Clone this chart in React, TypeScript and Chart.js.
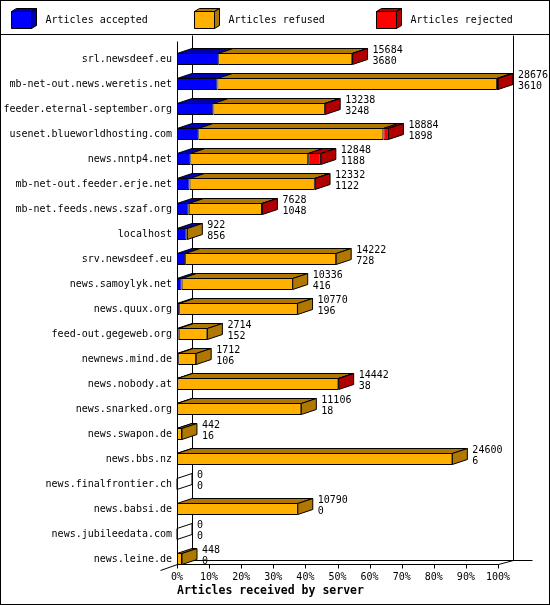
import React, { useEffect, useRef } from "react";
import { Chart, registerables } from "chart.js";

Chart.register(...registerables);

const categories = [
  "srl.newsdeef.eu",
  "mb-net-out.news.weretis.net",
  "feeder.eternal-september.org",
  "usenet.blueworldhosting.com",
  "news.nntp4.net",
  "mb-net-out.feeder.erje.net",
  "mb-net.feeds.news.szaf.org",
  "localhost",
  "srv.newsdeef.eu",
  "news.samoylyk.net",
  "news.quux.org",
  "feed-out.gegeweb.org",
  "newnews.mind.de",
  "news.nobody.at",
  "news.snarked.org",
  "news.swapon.de",
  "news.bbs.nz",
  "news.finalfrontier.ch",
  "news.babsi.de",
  "news.jubileedata.com",
  "news.leine.de",
];

const totalArticles = [15684, 28676, 13238, 18884, 12848, 12332, 7628, 922, 14222, 10336, 10770, 2714, 1712, 14442, 11106, 442, 24600, 0, 10790, 0, 448];
const acceptedArticles = [3680, 3610, 3248, 1898, 1188, 1122, 1048, 856, 728, 416, 196, 152, 106, 38, 18, 16, 6, 0, 0, 0, 0];
const refusedArticles = [11974, 24966, 9960, 16536, 10530, 11180, 6550, 66, 13494, 9920, 10574, 2562, 1606, 14374, 11088, 426, 24594, 0, 10790, 0, 448];
const rejectedArticles = [30, 100, 30, 450, 1130, 30, 30, 0, 0, 0, 0, 0, 0, 30, 0, 0, 0, 0, 0, 0, 0];

const seriesLabels = ["Articles accepted", "Articles refused", "Articles rejected"];
const percentLabels = ["0%", "10%", "20%", "30%", "40%", "50%", "60%", "70%", "80%", "90%", "100%"];
const xAxisTitle = "Articles received by server";

const FRONT = ["#0000ff", "#ffb000", "#ff0000"];
const SHADE = ["#0000b0", "#b07800", "#b00000"];
const FONT = "'DejaVu Sans Mono', 'Liberation Mono', monospace";
const DX = 15;
const BAR_DY = 5;
const WALL_DY = 4;
const LEGEND_H = 35;
const LEGEND_X0 = 11;
const LEGEND_STEP = 182.5;

type Pt = [number, number];

function poly(ctx: CanvasRenderingContext2D, pts: Pt[], fill?: string) {
  ctx.beginPath();
  ctx.moveTo(pts[0][0], pts[0][1]);
  for (let i = 1; i < pts.length; i++) ctx.lineTo(pts[i][0], pts[i][1]);
  ctx.closePath();
  if (fill) {
    ctx.fillStyle = fill;
    ctx.fill();
  }
  ctx.stroke();
}

function line(ctx: CanvasRenderingContext2D, pts: Pt[]) {
  ctx.beginPath();
  ctx.moveTo(pts[0][0], pts[0][1]);
  for (let i = 1; i < pts.length; i++) ctx.lineTo(pts[i][0], pts[i][1]);
  ctx.stroke();
}

const frame3d = {
  id: "frame3d",
  beforeDraw(chart: any) {
    const { ctx, width, height } = chart;
    ctx.save();
    ctx.fillStyle = "#fff";
    ctx.fillRect(0, 0, width, height);
    ctx.strokeStyle = "#000";
    ctx.lineWidth = 1;
    line(ctx, [[0, LEGEND_H - 0.5], [width, LEGEND_H - 0.5]]);
    ctx.font = `10px ${FONT}`;
    ctx.textBaseline = "middle";
    ctx.textAlign = "left";
    chart.data.datasets.forEach((ds: any, i: number) => {
      const x = Math.round(LEGEND_X0 + i * LEGEND_STEP) + 0.5;
      const t = 11.5, b = 28.5, w = 20, dx = 5, dy = 3;
      poly(ctx, [[x, t], [x + w, t], [x + w, b], [x, b]], FRONT[i]);
      poly(ctx, [[x, t], [x + w, t], [x + w + dx, t - dy], [x + dx, t - dy]], SHADE[i]);
      poly(ctx, [[x + w, t], [x + w + dx, t - dy], [x + w + dx, b - dy], [x + w, b]], SHADE[i]);
      ctx.fillStyle = "#000";
      ctx.fillText(ds.label, x + 34, 20);
    });
    ctx.restore();
  },
  beforeDatasetsDraw(chart: any) {
    const { ctx } = chart;
    const xs = chart.scales.x;
    const L = Math.round(xs.getPixelForValue(xs.min)) + 0.5;
    const R = Math.round(xs.getPixelForValue(xs.max)) + 0.5;
    const lastEl = chart.getDatasetMeta(0).data[categories.length - 1];
    const floor = Math.round(lastEl.y + lastEl.height / 2) - 0.5;
    const back = floor - WALL_DY;
    const wallTop = LEGEND_H + 0.5;
    ctx.save();
    ctx.strokeStyle = "#000";
    ctx.lineWidth = 1;
    line(ctx, [[L + DX, wallTop], [L + DX, back]]);
    line(ctx, [[R + DX, wallTop], [R + DX, back]]);
    line(ctx, [[L + DX, back], [R + DX + 19, back]]);
    line(ctx, [[L, wallTop + 6], [L, floor]]);
    line(ctx, [[L, floor], [R, floor], [R + DX, back]]);
    line(ctx, [[L - 17, floor + 6], [L, floor], [L + DX, back]]);
    xs.ticks.forEach((t: any) => {
      const px = Math.round(xs.getPixelForValue(t.value)) + 0.5;
      line(ctx, [[px, floor], [px, floor + 4]]);
    });
    ctx.restore();
  },
  afterDatasetsDraw(chart: any) {
    const { ctx } = chart;
    const xs = chart.scales.x;
    const L = xs.getPixelForValue(xs.min);
    const metas = chart.data.datasets.map((_: any, d: number) => chart.getDatasetMeta(d));
    ctx.save();
    ctx.strokeStyle = "#000";
    ctx.lineWidth = 1;
    ctx.lineJoin = "miter";
    categories.forEach((_, i) => {
      const segs = metas
        .map((m: any, d: number) => ({ el: m.data[i], v: chart.data.datasets[d].data[i], d }))
        .filter((s: any) => s.v > 0);
      const ref = metas[0].data[i];
      const yT = Math.round(ref.y - ref.height / 2) + 0.5;
      const yB = Math.round(ref.y + ref.height / 2) - 0.5;
      segs.forEach((s: any) => {
        const x0 = Math.min(s.el.base, s.el.x);
        const x1 = Math.max(s.el.base, s.el.x);
        poly(ctx, [[x0, yT], [x1, yT], [x1 + DX, yT - BAR_DY], [x0 + DX, yT - BAR_DY]], SHADE[s.d]);
      });
      let xe = L;
      if (segs.length) {
        const last = segs[segs.length - 1];
        xe = Math.max(last.el.base, last.el.x);
        poly(ctx, [[xe, yT], [xe + DX, yT - BAR_DY], [xe + DX, yB - BAR_DY], [xe, yB]], SHADE[last.d]);
      } else {
        poly(ctx, [[xe, yT], [xe + DX, yT - BAR_DY], [xe + DX, yB - BAR_DY], [xe, yB]]);
      }
      ctx.fillStyle = "#000";
      ctx.font = `10px ${FONT}`;
      ctx.textAlign = "left";
      ctx.textBaseline = "middle";
      const tx = xe + DX + 5;
      ctx.fillText(String(totalArticles[i]), tx, ref.y - 8.5);
      ctx.fillText(String(acceptedArticles[i]), tx, ref.y + 2.5);
    });
    ctx.restore();
  },
  afterDraw(chart: any) {
    const { ctx, width, height } = chart;
    ctx.save();
    ctx.strokeStyle = "#000";
    ctx.lineWidth = 1;
    ctx.strokeRect(0.5, 0.5, width - 1, height - 1);
    ctx.restore();
  },
};

const maxTotal = Math.max(...totalArticles);

export default function App() {
  const ref = useRef<HTMLCanvasElement>(null);
  useEffect(() => {
    const barStyle = {
      borderColor: "#000",
      borderWidth: 1,
      borderSkipped: false,
      inflateAmount: 0,
      barThickness: 12,
    };
    const chart = new Chart(ref.current as HTMLCanvasElement, {
      type: "bar",
      data: {
        labels: categories,
        datasets: [
          { label: seriesLabels[0], data: acceptedArticles, backgroundColor: FRONT[0], ...barStyle },
          { label: seriesLabels[1], data: refusedArticles, backgroundColor: FRONT[1], ...barStyle },
          { label: seriesLabels[2], data: rejectedArticles, backgroundColor: FRONT[2], ...barStyle },
        ] as any,
      },
      options: {
        indexAxis: "y",
        responsive: false,
        maintainAspectRatio: false,
        devicePixelRatio: 1,
        animation: false,
        layout: { padding: { top: 46.5, left: 0, right: 52, bottom: 7.5 } },
        plugins: {
          legend: { display: false },
          tooltip: { enabled: false },
          title: { display: false },
        },
        scales: {
          x: {
            type: "linear",
            stacked: true,
            min: 0,
            max: maxTotal,
            grid: { display: false, drawTicks: false, tickLength: 0 },
            border: { display: false },
            afterBuildTicks: (s: any) => {
              s.ticks = percentLabels.map((_, i) => ({ value: (maxTotal * i) / (percentLabels.length - 1) }));
            },
            afterFit: (s: any) => {
              s.height = 26;
            },
            ticks: {
              autoSkip: false,
              maxRotation: 0,
              padding: 0,
              color: "#000",
              font: { family: FONT, size: 10 },
              callback: (_v: any, i: number) => percentLabels[i],
            },
            title: {
              display: true,
              text: xAxisTitle,
              align: "start",
              color: "#000",
              padding: 0,
              font: { family: FONT, size: 11.5, weight: "bold" },
            },
          },
          y: {
            type: "category",
            stacked: true,
            grid: { display: false, drawTicks: false, tickLength: 0 },
            border: { display: false },
            afterFit: (s: any) => {
              s.width = 177;
            },
            ticks: {
              autoSkip: false,
              padding: 5,
              color: "#000",
              font: { family: FONT, size: 10 },
            },
          },
        },
      } as any,
      plugins: [frame3d],
    });
    return () => chart.destroy();
  }, []);
  return (
    <>
      <style>{"body{margin:0}"}</style>
      <div style={{ width: 550, height: 605 }}>
        <canvas ref={ref} width={550} height={605} style={{ display: "block" }} />
      </div>
    </>
  );
}
